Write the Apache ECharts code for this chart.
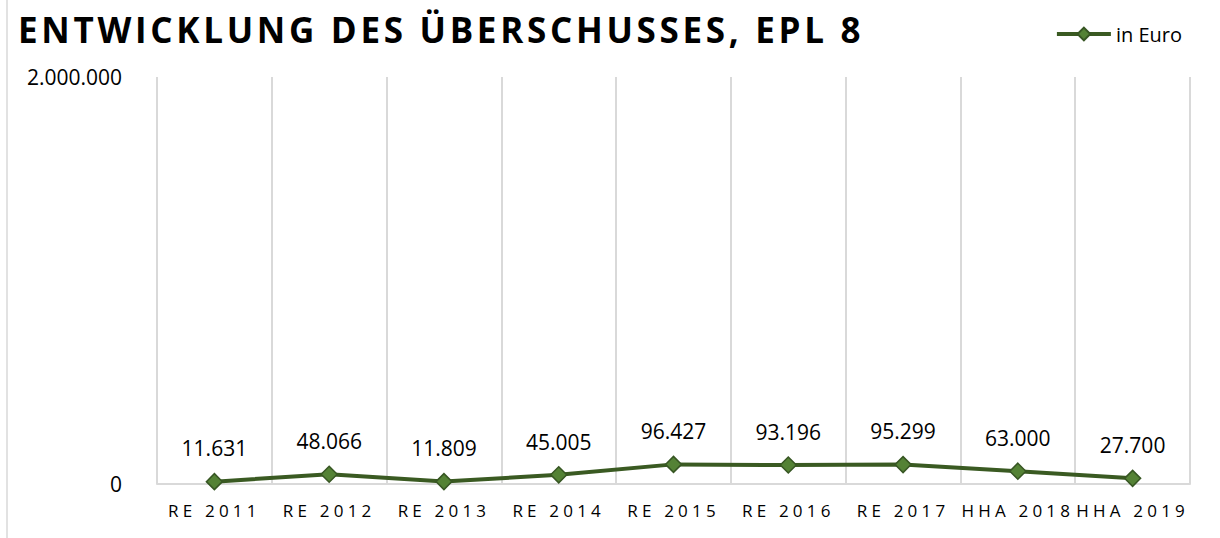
<!DOCTYPE html>
<html><head><meta charset="utf-8">
<script src="https://cdn.jsdelivr.net/npm/echarts@6/dist/echarts.min.js"></script>
<style>html,body{margin:0;padding:0;background:#fff}#c{width:1220px;height:538px}</style>
</head><body><div id="c"></div>
<script>
const categories = ['RE 2011','RE 2012','RE 2013','RE 2014','RE 2015','RE 2016','RE 2017','HHA 2018','HHA 2019'];
const values = [11631, 48066, 11809, 45005, 96427, 93196, 95299, 63000, 27700];
const seriesName = 'in Euro';
const titleText = 'ENTWICKLUNG DES ÜBERSCHUSSES, EPL 8';
const yMin = 0;
const yMax = 2000000;

function fmt(n){ return String(n).replace(/\B(?=(\d{3})+(?!\d))/g, '.'); }

const FONT = '"Open Sans", sans-serif';
const chart = echarts.init(document.getElementById('c'), null, {renderer: 'svg'});
chart.setOption({
  animation: false,
  backgroundColor: '#fff',
  title: {
    text: titleText, left: 13, top: 7,
    textStyle: {fontFamily: FONT, fontWeight: 'bold', fontSize: 35, color: '#000'}
  },
  legend: {
    data: [seriesName], right: 33, top: 19,
    itemWidth: 54, itemHeight: 16, itemGap: 4,
    lineStyle: {width: 4},
    textStyle: {fontFamily: FONT, fontSize: 20, color: '#000'}
  },
  grid: {left: 157, right: 30, top: 77, bottom: 54, containLabel: false, outerBoundsMode: 'none'},
  xAxis: {
    type: 'category', data: categories, boundaryGap: true,
    axisLine: {lineStyle: {color: '#d9d9d9', width: 2}},
    axisTick: {show: false},
    splitLine: {show: true, lineStyle: {color: '#d9d9d9', width: 2}},
    axisLabel: {fontFamily: FONT, fontSize: 17, color: '#000', margin: 18, interval: 0}
  },
  yAxis: {
    type: 'value', min: yMin, max: yMax, interval: yMax,
    axisLine: {show: false}, axisTick: {show: false}, splitLine: {show: false},
    axisLabel: {fontFamily: FONT, fontSize: 21, color: '#000', margin: 35, formatter: v => fmt(v)}
  },
  graphic: [{type: 'line', shape: {x1: 7, y1: 0, x2: 7, y2: 538}, style: {stroke: '#d9d9d9', lineWidth: 1.5}}],
  series: [{
    name: seriesName, type: 'line', data: values,
    symbol: 'diamond', symbolSize: 16,
    lineStyle: {color: '#3a5a22', width: 4},
    itemStyle: {color: '#548235', borderColor: '#375623', borderWidth: 1.5},
    label: {show: true, position: 'top', distance: 14, fontFamily: FONT, fontSize: 21, color: '#000', formatter: p => fmt(p.value)}
  }]
});

function spacing(){
  const texts = document.querySelectorAll('#c svg text');
  texts.forEach(t => {
    const s = t.textContent;
    if (s === titleText) t.setAttribute('letter-spacing', '3.7');
    else if (categories.indexOf(s) >= 0) t.setAttribute('letter-spacing', '4.2');
  });
}
chart.on('finished', spacing);
setTimeout(spacing, 50);
setTimeout(spacing, 300);
</script>
</body></html>
